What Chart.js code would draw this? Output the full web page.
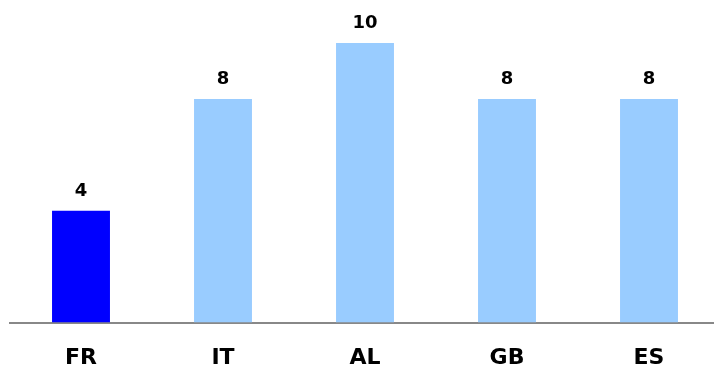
<!DOCTYPE html>
<html>
<head>
<meta charset="utf-8">
<script src="https://cdn.jsdelivr.net/npm/chart.js@4.4.1/dist/chart.umd.min.js"></script>
<style>
  html, body { margin: 0; padding: 0; background: #fff; overflow: hidden; }
  #wrap { position: relative; width: 722px; height: 393px; }
</style>
</head>
<body>
<div id="wrap"><canvas id="chart"></canvas></div>
<script>
const categories = ['FR', 'IT', 'AL', 'GB', 'ES'];
const values = [4, 8, 10, 8, 8];
const barColors = ['#0000FF', '#99CCFF', '#99CCFF', '#99CCFF', '#99CCFF'];

// Writes each bar's value just above its top edge
const valueLabels = {
  id: 'valueLabels',
  afterDatasetsDraw(chart) {
    const { ctx } = chart;
    const meta = chart.getDatasetMeta(0);
    ctx.save();
    ctx.font = 'bold 18px "DejaVu Sans", sans-serif';
    ctx.fillStyle = '#000';
    ctx.textAlign = 'center';
    ctx.textBaseline = 'alphabetic';
    meta.data.forEach((bar, i) => {
      ctx.fillText(String(chart.data.datasets[0].data[i]), bar.x, bar.y - 15);
    });
    ctx.restore();
  }
};

new Chart(document.getElementById('chart'), {
  type: 'bar',
  data: {
    labels: categories,
    datasets: [{
      data: values,
      backgroundColor: barColors,
      borderWidth: 0,
      barPercentage: 0.408,
      categoryPercentage: 1
    }]
  },
  options: {
    responsive: true,
    maintainAspectRatio: false,
    animation: false,
    layout: { padding: { left: 10, right: 2, top: 15, bottom: 0 } },
    plugins: { legend: { display: false }, tooltip: { enabled: false } },
    scales: {
      x: {
        grid: { display: false, drawTicks: false },
        border: { display: true, color: '#888888', width: 2 },
        ticks: {
          padding: 22,
          color: '#000',
          font: { family: '"DejaVu Sans", sans-serif', size: 22, weight: 'bold' }
        }
      },
      y: {
        display: false,
        min: 0,
        max: 11
      }
    }
  },
  plugins: [valueLabels]
});
</script>
</body>
</html>
